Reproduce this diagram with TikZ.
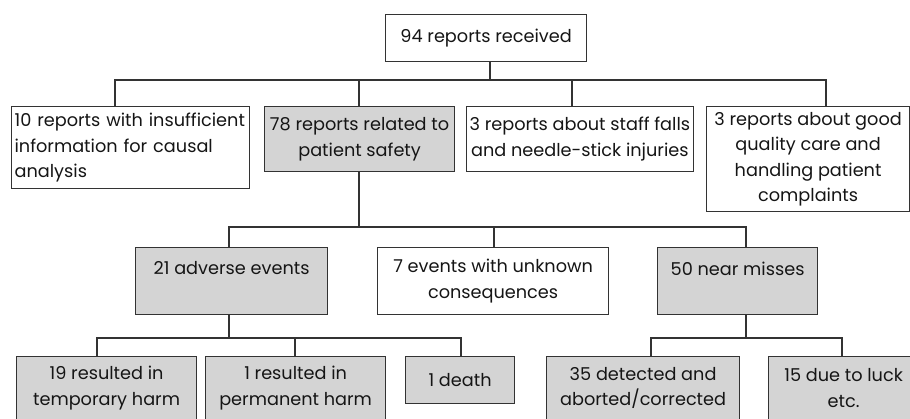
\documentclass[tikz,border=0pt]{standalone}
\usepackage{fontspec}
\setmainfont{Poppins}
\definecolor{boxgray}{HTML}{D4D4D4}
\definecolor{lin}{HTML}{333333}
\definecolor{txt}{HTML}{151515}
\begin{document}
\begin{tikzpicture}[x=1pt,y=-1pt,
  box/.style={draw=lin,line width=1.2pt,anchor=north west,inner xsep=3pt,inner ysep=0pt,
    text=txt,font=\fontsize{17.7}{25.5}\selectfont,align=center},
  grey/.style={box,fill=boxgray},
  conn/.style={draw=lin,line width=1.2pt}]
\path[use as bounding box] (0,0) rectangle (910,419);
\clip (0,0) rectangle (910,419);
% row 1
\node[box,minimum width=201,minimum height=47] (top) at (385,14) {94 reports received};
% row 2
\node[box,minimum width=238,minimum height=82,text width=232,align=left] (b1) at (11,106)
  {10 reports with insufficient\\information for causal\\analysis};
\node[grey,minimum width=190,minimum height=65] (b2) at (264,106)
  {78 reports related to\\patient safety};
\node[box,minimum width=226,minimum height=65] (b3) at (466,106)
  {3 reports about staff falls\\and needle-stick injuries};
\node[box,minimum width=203,minimum height=105] (b4) at (706,106)
  {3 reports about good\\quality care and\\handling patient\\complaints};
% row 3
\node[grey,minimum width=192,minimum height=67] (c1) at (135,247)
  {21 adverse events\\\phantom{x}};
\node[box,minimum width=231,minimum height=67] (c2) at (377,247)
  {7 events with unknown\\consequences};
\node[grey,minimum width=160,minimum height=67] (c3) at (657,247)
  {50 near misses\\\phantom{x}};
% row 4
\node[grey,minimum width=180,minimum height=63] (e1) at (16,356)
  {19 resulted in\\temporary harm};
\node[grey,minimum width=180,minimum height=63] (e2) at (205,356)
  {1 resulted in\\permanent harm};
\node[grey,minimum width=109,minimum height=47] (e3) at (405,356)
  {1 death};
\node[grey,minimum width=193,minimum height=63] (e4) at (546,356)
  {35 detected and\\aborted/corrected};
\node[grey,minimum width=150,minimum height=63] (e5) at (768,356)
  {15 due to luck\\etc.};
% connectors row 1 -> row 2
\coordinate (j1) at (490,80);
\coordinate (d1) at (115,80);
\coordinate (d2) at (359,80);
\coordinate (d3) at (572,80);
\coordinate (d4) at (826,80);
\draw[conn] (top.south -| j1) -- (j1);
\draw[conn] (d1 |- b1.north) -- (d1) -- (d4) -- (d4 |- b4.north);
\draw[conn] (d2) -- (d2 |- b2.north);
\draw[conn] (d3) -- (d3 |- b3.north);
% row 2 -> row 3
\coordinate (j2) at (359,227);
\coordinate (f1) at (229,227);
\coordinate (f2) at (494,227);
\coordinate (f3) at (746,227);
\draw[conn] (b2.south -| j2) -- (j2);
\draw[conn] (f1 |- c1.north) -- (f1) -- (f3) -- (f3 |- c3.north);
\draw[conn] (f2) -- (f2 |- c2.north);
% row 3 -> row 4 (left)
\coordinate (j3) at (229,338);
\coordinate (g1) at (97,338);
\coordinate (g2) at (295,338);
\coordinate (g3) at (461,338);
\draw[conn] (c1.south -| j3) -- (j3);
\draw[conn] (g1 |- e1.north) -- (g1) -- (g3) -- (g3 |- e3.north);
\draw[conn] (g2) -- (g2 |- e2.north);
% row 3 -> row 4 (right)
\coordinate (j4) at (746,338);
\coordinate (h1) at (651,338);
\coordinate (h2) at (842,338);
\draw[conn] (c3.south -| j4) -- (j4);
\draw[conn] (h1 |- e4.north) -- (h1) -- (h2) -- (h2 |- e5.north);
\end{tikzpicture}
\end{document}
